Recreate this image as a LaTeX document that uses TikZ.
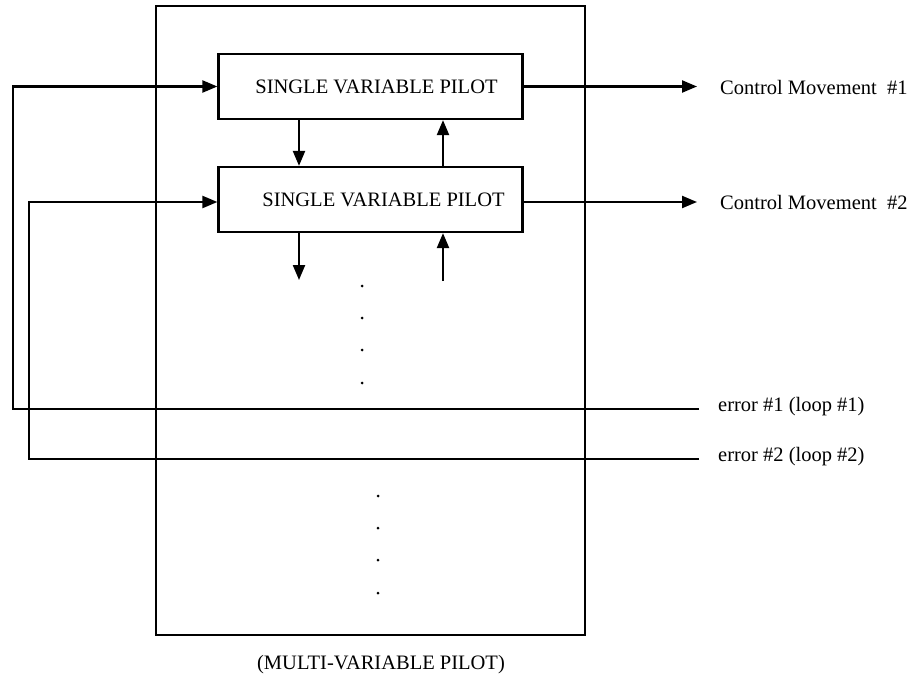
\documentclass[tikz,border=0pt]{standalone}
\usepackage{fontspec}
\setmainfont{Liberation Serif}
\usetikzlibrary{arrows.meta}
\begin{document}
\begin{tikzpicture}[x=1pt,y=-1pt,
  txt/.style={font=\fontsize{20.5}{24}\selectfont},
  pilotbox/.style={draw,line width=2.2pt,minimum width=304pt,minimum height=65pt,inner sep=0pt,txt},
  outerbox/.style={draw,line width=2pt,minimum width=429pt,minimum height=629pt,inner sep=0pt},
  arr/.style={line width=2.2pt,-{Triangle[length=15pt,width=12pt]}},
  lbl/.style={txt,inner sep=0pt,anchor=west},
  dotmark/.style={circle,fill,inner sep=0pt,minimum size=3pt}]
\useasboundingbox (0,0) rectangle (914,685);
\node[outerbox] (outer) at (370.5,320.5) {};
\node[pilotbox] (b1) at (370.5,86.5) {\hspace*{12pt}SINGLE VARIABLE PILOT};
\node[pilotbox] (b2) at (370.5,199.5) {\hspace*{26pt}SINGLE VARIABLE PILOT};
% outputs
\coordinate (o1) at (697,86.5);
\coordinate (o2) at (697,202);
\node[lbl] (cm1) at (720,87) {Control Movement \ \#1};
\node[lbl] (cm2) at (720,202) {Control Movement \ \#2};
\draw[arr] (b1.east) -- (o1);
\draw[arr] (b2.east |- o2) -- (o2);
% error loops
\coordinate (e1) at (699,409);
\coordinate (e2) at (699,459);
\coordinate (l1) at (13,409);
\coordinate (l2) at (29,459);
\coordinate (i2) at (0,202);
\node[lbl] (er1) at (718,407) {error \#1 (loop \#1)};
\node[lbl] (er2) at (718,457) {error \#2 (loop \#2)};
\draw[arr] (e1) -- (l1) |- (b1.west);
\draw[arr] (e2) -- (l2) |- (b2.west |- i2);
% inter-box arrows
\coordinate (dx) at (299,0);
\coordinate (ux) at (443,0);
\coordinate (d2) at (299,280);
\coordinate (u2) at (443,281);
\draw[arr] (b1.south -| dx) -- (b2.north -| dx);
\draw[arr] (b2.north -| ux) -- (b1.south -| ux);
\draw[arr] (b2.south -| dx) -- (d2);
\draw[arr] (u2) -- (b2.south -| ux);
% dots
\node[dotmark] (p1) at (362,286) {};
\node[dotmark] (p2) at (362,318) {};
\node[dotmark] (p3) at (362,350) {};
\node[dotmark] (p4) at (362,383) {};
\node[dotmark] (q1) at (378,496) {};
\node[dotmark] (q2) at (378,528) {};
\node[dotmark] (q3) at (378,560) {};
\node[dotmark] (q4) at (378,593) {};
% caption
\node[txt,inner sep=0pt] (cap) at (381,665) {(MULTI-VARIABLE PILOT)};
\end{tikzpicture}
\end{document}
